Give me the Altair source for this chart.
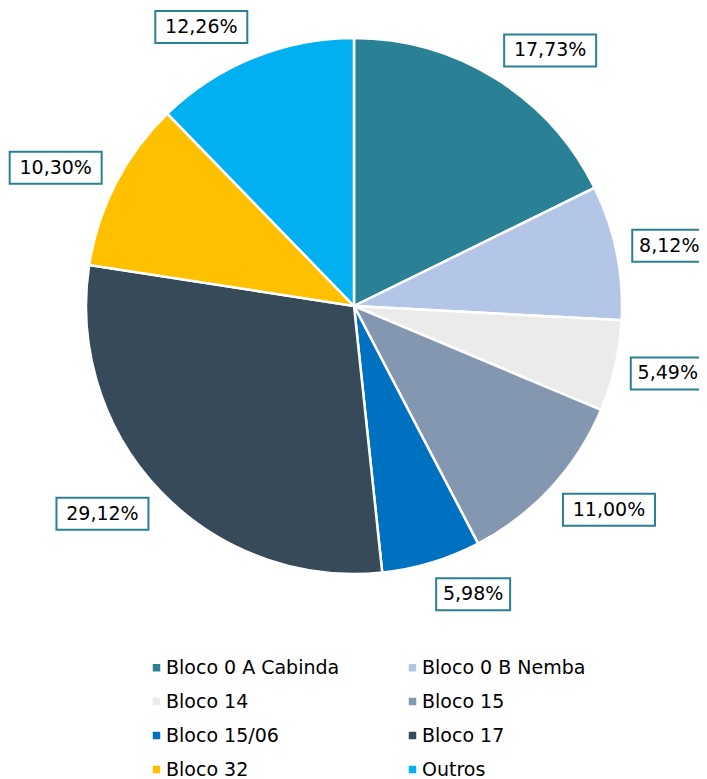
import altair as alt
import pandas as pd

blocks = ["Bloco 0 A Cabinda", "Bloco 0 B Nemba", "Bloco 14", "Bloco 15",
          "Bloco 15/06", "Bloco 17", "Bloco 32", "Outros"]
shares = [17.73, 8.12, 5.49, 11.00, 5.98, 29.12, 10.30, 12.26]
colors = ["#2A8094", "#B4C6E7", "#EBEBEB", "#8497B0",
          "#0070C0", "#374A5A", "#FFC000", "#00B0F0"]
labels = [f"{v:.2f}".replace(".", ",") + "%" for v in shares]

df = pd.DataFrame({"bloco": blocks, "share": shares, "label": labels,
                   "idx": list(range(len(blocks)))})

W, H = 691, 771
CX, CY = 346, 298
R = 268
FONT = "DejaVu Sans"

xs = alt.Scale(domain=[-CX, W - CX], nice=False, zero=False)
ys = alt.Scale(domain=[-(H - CY), CY], nice=False, zero=False)

base = alt.Chart(df)

pie = base.mark_arc(outerRadius=R, stroke="white", strokeWidth=2.5).encode(
    theta=alt.Theta("share:Q", stack=True),
    order=alt.Order("idx:Q"),
    color=alt.Color(
        "bloco:N", sort=blocks,
        scale=alt.Scale(domain=blocks, range=colors),
        legend=alt.Legend(
            title=None, orient="none", legendX=139, legendY=650, columns=2,
            direction="horizontal",
            columnPadding=63, rowPadding=14, symbolType="square", symbolSize=56,
            symbolStrokeWidth=0, symbolOpacity=1, labelFont=FONT, labelFontSize=19,
            labelColor="#000000", labelOffset=0, labelLimit=300, padding=0,
        ),
    ),
    x=alt.XDatum(0, type="quantitative", scale=xs, axis=None),
    y=alt.YDatum(0, type="quantitative", scale=ys, axis=None),
)

lab = base.transform_window(
    cum="sum(share)", sort=[alt.SortField("idx")], frame=[None, 0]
).transform_joinaggregate(
    total="sum(share)"
).transform_calculate(
    mid="(datum.cum - datum.share / 2) / datum.total * 2 * PI",
    hw="length(datum.label) > 5 ? 46 : 37",
).transform_calculate(
    lx="284 * sin(datum.mid) + (sin(datum.mid) >= 0 ? 1 : -1) * datum.hw",
    ly="(284 + 17) * cos(datum.mid)",
    box="length(datum.label) > 5 ? 'M-2.875,-1H2.875V1H-2.875Z' : 'M-2.3125,-1H2.3125V1H-2.3125Z'",
)

boxes = lab.mark_point(filled=True, fill="white", stroke="#2A8094", strokeWidth=2,
                       size=1024, opacity=1, strokeOpacity=1, fillOpacity=1).encode(
    x=alt.X("lx:Q", scale=xs, axis=None),
    y=alt.Y("ly:Q", scale=ys, axis=None),
    shape=alt.Shape("box:N", scale=None),
)

texts = lab.mark_text(font=FONT, fontSize=19, color="#000000",
                      align="center", baseline="middle").encode(
    x=alt.X("lx:Q", scale=xs, axis=None),
    y=alt.Y("ly:Q", scale=ys, axis=None),
    text="label:N",
)

chart = alt.layer(pie, boxes, texts).properties(
    width=W, height=H, padding=0,
    autosize=alt.AutoSizeParams(type="none"),
).configure_view(stroke=None)

chart.save("out.html", embed_options={"renderer": "svg", "actions": False})
